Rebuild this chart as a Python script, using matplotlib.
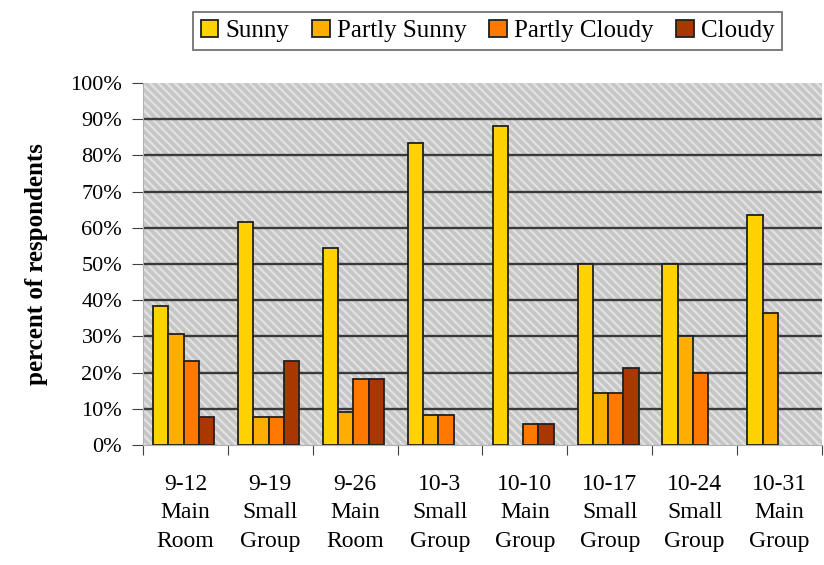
import matplotlib
matplotlib.use("Agg")
import matplotlib.pyplot as plt
import numpy as np
from matplotlib.patches import Rectangle

# data (fractions of respondents)
dates = ["9-12", "9-19", "9-26", "10-3", "10-10", "10-17", "10-24", "10-31"]
groups = ["Main\nRoom", "Small\nGroup", "Main\nRoom", "Small\nGroup",
          "Main\nGroup", "Small\nGroup", "Small\nGroup", "Main\nGroup"]
sunny = [0.385, 0.615, 0.545, 0.833, 0.882, 0.50, 0.50, 0.636]
partly_sunny = [0.308, 0.077, 0.091, 0.083, 0.0, 0.143, 0.30, 0.364]
partly_cloudy = [0.231, 0.077, 0.182, 0.083, 0.059, 0.143, 0.20, 0.0]
cloudy = [0.077, 0.231, 0.182, 0.0, 0.059, 0.214, 0.0, 0.0]

series = [("Sunny", sunny, "#FFD200"),
          ("Partly Sunny", partly_sunny, "#FFAE00"),
          ("Partly Cloudy", partly_cloudy, "#FF7800"),
          ("Cloudy", cloudy, "#A83800")]

plt.rcParams['font.family'] = ['Liberation Serif', 'DejaVu Serif']
plt.rcParams['hatch.linewidth'] = 1.6
plt.rcParams['hatch.color'] = '#e2e2e2'

fig = plt.figure(figsize=(8.24, 5.65), dpi=100, facecolor='white')
ax = fig.add_axes([0.1735, 0.2124, 0.824, 0.6406])

# hatched gray plot background
ax.set_facecolor('#c6c6c6')
ax.add_patch(Rectangle((0, 0), 1, 1, transform=ax.transAxes,
                       facecolor='#c6c6c6', edgecolor='#e2e2e2',
                       hatch='\\\\\\\\', lw=0, zorder=0))

x = np.arange(len(dates))
w = 0.18
for i, (name, vals, col) in enumerate(series):
    bars = ax.bar(x + (i - 1.5) * w - 0.02, vals, width=w, color=col,
                  edgecolor='#202020', linewidth=1.3, label=name, zorder=3)
    # empty categories draw nothing
    for b, v in zip(bars, vals):
        if v == 0:
            b.set_visible(False)

ax.set_xlim(-0.5, len(dates) - 0.5)
ax.set_ylim(0, 1.0)

ax.set_yticks(np.arange(0, 1.01, 0.1))
ax.set_yticklabels([f"{int(round(v * 100))}%" for v in np.arange(0, 1.01, 0.1)],
                   fontsize=16)
for y in np.arange(0.1, 1.0, 0.1):
    ax.axhline(y, color='#3a3a3a', lw=1.7, zorder=1)

ax.set_xticks(np.arange(-0.5, len(dates), 1.0))
ax.set_xticklabels([])
ax.set_xticks(x, minor=True)
ax.set_xticklabels([f"{d}\n{g}" for d, g in zip(dates, groups)],
                   minor=True, fontsize=17, linespacing=1.45)
ax.tick_params(axis='x', which='minor', length=0, pad=21)
ax.tick_params(axis='x', which='major', length=7, color='#404040', direction='out')
ax.tick_params(axis='y', length=8, color='#404040', direction='out', pad=7)

for s in ['top', 'right']:
    ax.spines[s].set_visible(False)
ax.spines['left'].set_color('#b0b0b0')
ax.spines['bottom'].set_color('#b0b0b0')

ax.set_ylabel("percent of respondents", fontsize=18, fontweight='bold', labelpad=16)

leg = fig.legend(loc='upper center', bbox_to_anchor=(0.592, 0.978), ncol=4,
                 prop={'family': 'Liberation Serif', 'size': 18},
                 frameon=True, fancybox=False, edgecolor='#505050',
                 handlelength=0.7, handleheight=0.7, handletextpad=0.3,
                 columnspacing=0.9, borderpad=0.3, borderaxespad=0)
leg.get_frame().set_linewidth(1.3)

fig.savefig("out.png", dpi=100, facecolor=fig.get_facecolor())
